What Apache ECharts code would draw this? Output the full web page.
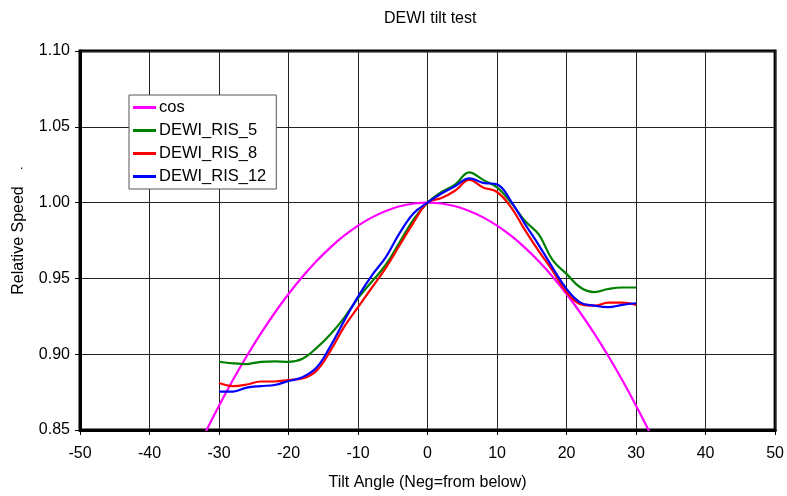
<!DOCTYPE html>
<html>
<head>
<meta charset="utf-8">
<script src="https://cdn.jsdelivr.net/npm/echarts@6/dist/echarts.min.js"></script>
<style>html,body{margin:0;padding:0;background:#fff}#c{width:787px;height:496px}</style>
</head>
<body>
<div id="c"></div>
<script>
var angles = [-30,-28,-26,-24,-22,-20,-18,-16,-14,-12,-10,-8,-6,-4,-2,0,2,4,6,8,10,12,14,16,18,20,22,24,26,28,30];
var cosAngles = [-32,-30,-28,-26,-24,-22,-20,-18,-16,-14,-12,-10,-8,-6,-4,-2,0,2,4,6,8,10,12,14,16,18,20,22,24,26,28,30,32];
var cosVals = [0.84805,0.86603,0.88295,0.89879,0.91355,0.92718,0.93969,0.95106,0.96126,0.97030,0.97815,0.98481,0.99027,0.99452,0.99756,0.99939,1.00000,0.99939,0.99756,0.99452,0.99027,0.98481,0.97815,0.97030,0.96126,0.95106,0.93969,0.92718,0.91355,0.89879,0.88295,0.86603,0.84805];
var ris5 = [0.895,0.894,0.8935,0.895,0.8953,0.895,0.897,0.904,0.913,0.924,0.937,0.948,0.959,0.974,0.989,1.000,1.007,1.012,1.020,1.015,1.010,1.000,0.988,0.979,0.962,0.953,0.944,0.941,0.943,0.944,0.944];
var ris8 = [0.881,0.879,0.880,0.882,0.882,0.883,0.884,0.889,0.902,0.918,0.931,0.944,0.957,0.972,0.987,1.000,1.003,1.008,1.015,1.010,1.007,0.997,0.982,0.968,0.955,0.941,0.933,0.932,0.934,0.934,0.9325];
var ris12 = [0.8753,0.8753,0.878,0.879,0.8797,0.8823,0.8848,0.891,0.905,0.922,0.938,0.952,0.964,0.980,0.993,1.000,1.006,1.011,1.016,1.013,1.012,1.001,0.986,0.972,0.957,0.943,0.934,0.932,0.931,0.9325,0.9336];
var seriesNames = ['cos','DEWI_RIS_5','DEWI_RIS_8','DEWI_RIS_12'];
var seriesColors = ['#ff00ff','#008000','#ff0000','#0000ff'];

function pairs(xs, ys){ return xs.map(function(x,i){ return [x, ys[i]]; }); }
var datasets = [pairs(cosAngles,cosVals), pairs(angles,ris5), pairs(angles,ris8), pairs(angles,ris12)];

var font = 'Arial, "Liberation Sans", sans-serif';
var chart = echarts.init(document.getElementById('c'));
chart.setOption({
  animation: false,
  backgroundColor: '#fff',
  textStyle: {fontFamily: font},
  grid: {left: 80, right: 10, top: 51, bottom: 66, show: true, borderColor: '#000', borderWidth: 3, backgroundColor: 'transparent', containLabel: false},
  legend: {
    orient: 'vertical', left: 129, top: 95,
    data: seriesNames,
    icon: 'rect', itemWidth: 23, itemHeight: 3, itemGap: 6,
    padding: [4, 10, 4, 4],
    borderColor: '#555', borderWidth: 1, backgroundColor: '#fff',
    textStyle: {fontFamily: font, fontSize: 16.5, color: '#000', padding: [0,0,0,-2]}
  },
  graphic: [
    {type: 'text', left: 384, top: 11, style: {text: 'DEWI tilt test', font: '16px ' + font, fill: '#000'}},
    {type: 'text', left: 20, top: 160, style: {text: '.', font: '12px ' + font, fill: '#000'}}
  ],
  xAxis: {
    type: 'value', min: -50, max: 50, interval: 10,
    name: 'Tilt Angle (Neg=from below)', nameLocation: 'middle', nameGap: 45,
    nameTextStyle: {fontFamily: font, fontSize: 16, color: '#000'},
    axisLine: {show: true, onZero: false, lineStyle: {color: '#000', width: 3}},
    axisTick: {show: true, length: 5, lineStyle: {color: '#000', width: 1}},
    axisLabel: {fontFamily: font, fontSize: 16, color: '#000', margin: 16},
    splitLine: {show: true, lineStyle: {color: '#222', width: 1}}
  },
  yAxis: {
    type: 'value', min: 0.85, max: 1.10, interval: 0.05,
    name: 'Relative Speed', nameLocation: 'middle', nameGap: 53,
    nameTextStyle: {fontFamily: font, fontSize: 16, color: '#000'},
    axisLine: {show: true, onZero: false, lineStyle: {color: '#000', width: 3}},
    axisTick: {show: true, length: 5, lineStyle: {color: '#000', width: 1}},
    axisLabel: {fontFamily: font, fontSize: 16, color: '#000', margin: 10, formatter: function(v){ return v.toFixed(2); }},
    splitLine: {show: true, lineStyle: {color: '#222', width: 1}}
  },
  series: seriesNames.map(function(n, i){
    return {
      name: n, type: 'line', data: datasets[i], smooth: 0.4, showSymbol: false, symbol: 'none',
      clip: true, color: seriesColors[i],
      lineStyle: {color: seriesColors[i], width: 2.2}
    };
  })
});
</script>
</body>
</html>
